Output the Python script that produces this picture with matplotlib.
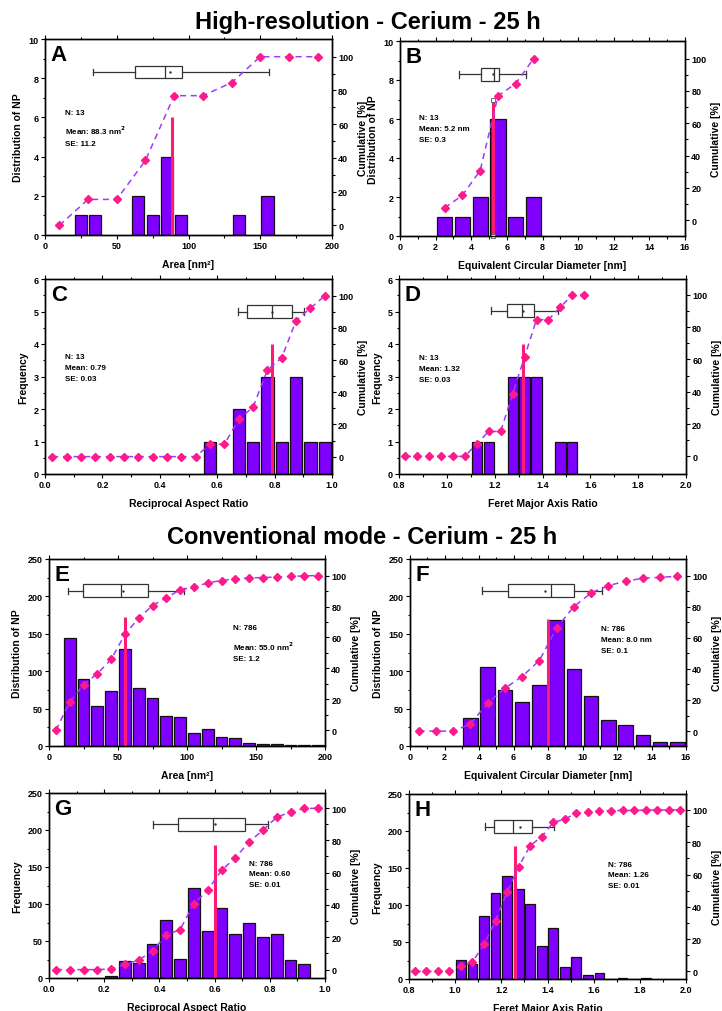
import matplotlib
matplotlib.use("Agg")
import matplotlib.pyplot as plt
from matplotlib.ticker import AutoMinorLocator, FixedLocator

plt.rcParams['font.family'] = ['Liberation Sans', 'DejaVu Sans']
plt.rcParams['font.weight'] = 'bold'
plt.rcParams['axes.labelweight'] = 'bold'

# ---------------- DATA ----------------
# Panel A - Area (high resolution)
a_centers = [25, 35, 65, 75, 85, 95, 135, 155]
a_counts = [1, 1, 2, 1, 4, 1, 1, 2]
a_cum_x = [10, 30, 50, 70, 90, 110, 130, 150, 170, 190]
a_cum_y = [0, 15.4, 15.4, 38.5, 76.9, 76.9, 84.6, 100, 100, 100]
a_box = [33.6, 63, 83.6, 95.3, 156, 87]
a_mean = 88.3
a_text = "N: 13\nMean: 88.3 nm$^{2}$\nSE: 11.2"

# Panel B - ECD (high resolution)
b_centers = [2.5, 3.5, 4.5, 5.5, 6.5, 7.5]
b_counts = [1, 1, 2, 6, 1, 2]
b_cum_x = [2.5, 3.5, 4.5, 5.5, 6.5, 7.5]
b_cum_y = [7.7, 15.4, 30.8, 76.9, 84.6, 100]
b_box = [3.33, 4.54, 5.25, 5.57, 7.1, 5.2]
b_mean = 5.2
b_text = "N: 13\nMean: 5.2 nm\nSE: 0.3"

# Panel C - Reciprocal aspect ratio (high resolution)
c_centers = [0.575, 0.675, 0.725, 0.775, 0.825, 0.875, 0.925, 0.975]
c_counts = [1, 2, 1, 3, 1, 3, 1, 1]
c_cum_x = [0.025, 0.075, 0.125, 0.175, 0.225, 0.275, 0.325, 0.375, 0.425,
           0.475, 0.525, 0.575, 0.625, 0.675, 0.725, 0.775, 0.825, 0.875,
           0.925, 0.975]
c_cum_y = [0, 0, 0, 0, 0, 0, 0, 0, 0, 0, 0, 7.7, 7.7, 23.1, 30.8, 53.8,
           61.5, 84.6, 92.3, 100]
c_box = [0.672, 0.703, 0.792, 0.860, 0.901, 0.79]
c_mean = 0.79
c_text = "N: 13\nMean: 0.79\nSE: 0.03"

# Panel D - Feret major axis ratio (high resolution)
d_centers = [1.125, 1.175, 1.275, 1.325, 1.375, 1.475, 1.525]
d_counts = [1, 1, 3, 3, 3, 1, 1]
d_cum_x = [0.825, 0.875, 0.925, 0.975, 1.025, 1.075, 1.125, 1.175, 1.225,
           1.275, 1.325, 1.375, 1.425, 1.475, 1.525, 1.575]
d_cum_y = [0, 0, 0, 0, 0, 0, 7.7, 15.4, 15.4, 38.5, 61.5, 84.6, 84.6,
           92.3, 100, 100]
d_box = [1.186, 1.253, 1.315, 1.364, 1.464, 1.32]
d_mean = 1.32
d_text = "N: 13\nMean: 1.32\nSE: 0.03"

# Panel E - Area (conventional)
e_centers = [15, 25, 35, 45, 55, 65, 75, 85, 95, 105, 115, 125, 135, 145,
             155, 165, 175, 185, 195]
e_counts = [144, 89, 53, 73, 130, 77, 64, 40, 39, 17, 23, 12, 11, 4, 3, 3,
            2, 2, 2]
e_cum_x = [5, 15, 25, 35, 45, 55, 65, 75, 85, 95, 105, 115, 125, 135, 145,
           155, 165, 175, 185, 195]
e_cum_y = [0, 18.3, 29.5, 36.6, 45.8, 62.0, 72.5, 80.6, 85.6, 90.8, 92.5,
           95.3, 96.8, 97.8, 98.5, 98.7, 99.1, 99.4, 99.8, 100]
e_box = [13.5, 24.9, 52.2, 71.5, 98, 53.9]
e_mean = 55.0
e_text = "N: 786\nMean: 55.0 nm$^{2}$\nSE: 1.2"

# Panel F - ECD (conventional)
f_centers = [3.5, 4.5, 5.5, 6.5, 7.5, 8.5, 9.5, 10.5, 11.5, 12.5, 13.5,
             14.5, 15.5]
f_counts = [37, 106, 75, 59, 81, 168, 103, 67, 35, 28, 15, 5, 5]
f_cum_x = [0.5, 1.5, 2.5, 3.5, 4.5, 5.5, 6.5, 7.5, 8.5, 9.5, 10.5, 11.5,
           12.5, 13.5, 14.5, 15.5]
f_cum_y = [0, 0, 0, 4.5, 18, 27.6, 35.1, 45.4, 66.4, 80.1, 88.9, 93.6,
           96.4, 98.3, 98.9, 99.6]
f_box = [4.15, 5.68, 8.17, 9.53, 11.13, 7.85]
f_mean = 8.0
f_text = "N: 786\nMean: 8.0 nm\nSE: 0.1"

# Panel G - Reciprocal aspect ratio (conventional)
g_centers = [0.225, 0.275, 0.325, 0.375, 0.425, 0.475, 0.525, 0.575, 0.625,
             0.675, 0.725, 0.775, 0.825, 0.875, 0.925]
g_counts = [3, 23, 20, 46, 78, 26, 121, 63, 95, 60, 74, 55, 59, 24, 19]
g_cum_x = [0.025, 0.075, 0.125, 0.175, 0.225, 0.275, 0.325, 0.375, 0.425,
           0.475, 0.525, 0.575, 0.625, 0.675, 0.725, 0.775, 0.825, 0.875,
           0.925, 0.975]
g_cum_y = [0, 0, 0, 0, 0.4, 3.2, 5.9, 11.6, 21.4, 24.8, 40.8, 49.0, 61.4,
           69.2, 79.0, 86.3, 94.3, 97.5, 99.8, 99.8]
g_box = [0.378, 0.469, 0.595, 0.71, 0.795, 0.60]
g_mean = 0.60
g_text = "N: 786\nMean: 0.60\nSE: 0.01"

# Panel H - Feret major axis ratio (conventional)
h_centers = [1.025, 1.075, 1.125, 1.175, 1.225, 1.275, 1.325, 1.375, 1.425,
             1.475, 1.525, 1.575, 1.625, 1.675, 1.725, 1.775, 1.825]
h_counts = [26, 20, 85, 116, 139, 121, 102, 44, 69, 16, 30, 5, 8, 0, 1, 0, 1]
h_cum_x = [0.825, 0.875, 0.925, 0.975, 1.025, 1.075, 1.125, 1.175, 1.225,
           1.275, 1.325, 1.375, 1.425, 1.475, 1.525, 1.575, 1.625, 1.675,
           1.725, 1.775, 1.825, 1.875, 1.925, 1.975]
h_cum_y = [0, 0, 0, 0, 3.3, 5.9, 16.8, 31.5, 49.3, 64.8, 77.9, 83.5, 92.3,
           94.3, 98.1, 98.7, 99.6, 99.6, 99.7, 99.7, 99.9, 100, 100, 100]
h_box = [1.128, 1.169, 1.251, 1.335, 1.429, 1.281]
h_mean = 1.26
h_text = "N: 786\nMean: 1.26\nSE: 0.01"

# ---------------- STYLE ----------------
BAR_C = '#8000FF'
MEAN_C = '#FF1A75'
MARK_C = '#FF1A8C'
DASH_C = '#9B3CFF'
TICK_FS = 6.5
LAB_FS = 7.5
TXT_FS = 5.8

W, H = 722, 1012
fig = plt.figure(figsize=(W / 100, H / 100), dpi=100)


def rect(x0, y0, x1, y1):
    return [x0 / W, 1 - y1 / H, (x1 - x0) / W, (y1 - y0) / H]


def panel(r, centers, counts, bw, cum_x, cum_y, box, box_y, box_h, mean,
          mean_h, xlim, xticks, ylim, yticks, clim, xlabel, ylabel, letter,
          text, tpos, squares=False):
    ax = fig.add_axes(rect(*r))
    ax.bar(centers, counts, width=bw * 0.85, color=BAR_C, edgecolor='#111111',
           linewidth=0.9, zorder=2)
    ax.plot([mean, mean], [0, mean_h], color=MEAN_C, lw=2.2, zorder=3,
            solid_capstyle='butt')
    if squares:
        ax.plot([mean, mean], [0, mean_h], ls='none', marker='s', ms=3,
                mfc='white', mec='#555555', mew=0.6, zorder=4, clip_on=False)
    stats = [dict(whislo=box[0], q1=box[1], med=box[2], q3=box[3],
                  whishi=box[4], mean=box[5], fliers=[])]
    ax.bxp(stats, positions=[box_y], widths=box_h, orientation='horizontal',
           showmeans=True, manage_ticks=False, patch_artist=True, zorder=4,
           boxprops=dict(facecolor='white', edgecolor='#333333', lw=0.9),
           whiskerprops=dict(color='#333333', lw=0.9),
           capprops=dict(color='#333333', lw=0.9),
           medianprops=dict(color='#333333', lw=0.9),
           meanprops=dict(marker='.', ms=1.5, mfc='#333333', mec='#333333'))
    ax.set_xlim(*xlim)
    ax.set_ylim(*ylim)
    ax.xaxis.set_major_locator(FixedLocator(xticks))
    ax.yaxis.set_major_locator(FixedLocator(yticks))
    ax.xaxis.set_minor_locator(AutoMinorLocator(2))
    ax.yaxis.set_minor_locator(AutoMinorLocator(2))
    ax.tick_params(which='both', direction='out', top=True, right=False,
                   width=0.8, labelsize=TICK_FS, pad=1.5)
    ax.tick_params(which='major', length=3)
    ax.tick_params(which='minor', length=1.8)
    for lab in ax.get_xticklabels() + ax.get_yticklabels():
        lab.set_fontweight('bold')
    for s in ax.spines.values():
        s.set_linewidth(1.0)
    ax.set_xlabel(xlabel, fontsize=LAB_FS, fontweight='bold', labelpad=6)
    ax.set_ylabel(ylabel, fontsize=LAB_FS, fontweight='bold', labelpad=4)
    ax.text(0.02, 0.975, letter, transform=ax.transAxes, fontsize=16,
            fontweight='bold', va='top', ha='left', zorder=6)
    ax.text(tpos[0], tpos[1], text, transform=ax.transAxes, fontsize=TXT_FS,
            fontweight='bold', va='top', ha='left', linespacing=1.75, zorder=6)

    ax2 = ax.twinx()
    ax2.plot(cum_x, cum_y, color=DASH_C, lw=1.1, ls=(0, (4, 3)), zorder=3)
    ax2.plot(cum_x, cum_y, ls='none', marker='D', ms=3.6, color=MARK_C,
             mec=MARK_C, zorder=4)
    ax2.set_ylim(*clim)
    ax2.yaxis.set_major_locator(FixedLocator([0, 20, 40, 60, 80, 100]))
    ax2.yaxis.set_minor_locator(FixedLocator([10, 30, 50, 70, 90]))
    ax2.tick_params(which='both', direction='out', width=0.8,
                    labelsize=TICK_FS, pad=1.5)
    ax2.tick_params(which='major', length=3)
    ax2.tick_params(which='minor', length=1.8)
    for lab in ax2.get_yticklabels():
        lab.set_fontweight('bold')
    for s in ax2.spines.values():
        s.set_linewidth(1.0)
    ax2.set_ylabel('Cumulative [%]', fontsize=LAB_FS, fontweight='bold',
                   labelpad=3)
    return ax, ax2


DIST = 'Distribution of NP'
FREQ = 'Frequency'

panel((45, 40, 332, 236), a_centers, a_counts, 10, a_cum_x, a_cum_y, a_box,
      8.32, 0.65, a_mean, 6, (0, 200), [0, 50, 100, 150, 200], (0, 10),
      [0, 2, 4, 6, 8, 10], (-5.7, 110.5), 'Area [nm²]', DIST, 'A', a_text,
      (0.07, 0.645))
panel((400, 42, 685, 237), b_centers, b_counts, 1, b_cum_x, b_cum_y, b_box,
      8.29, 0.68, b_mean, 7, (0, 16), [0, 2, 4, 6, 8, 10, 12, 14, 16],
      (0, 10), [0, 2, 4, 6, 8, 10], (-9.7, 110.9),
      'Equivalent Circular Diameter [nm]', DIST, 'B', b_text, (0.067, 0.625),
      squares=True)
panel((45, 280, 332, 475), c_centers, c_counts, 0.05, c_cum_x, c_cum_y, c_box,
      5.0, 0.41, c_mean, 4, (0, 1), [0, 0.2, 0.4, 0.6, 0.8, 1.0], (0, 6),
      [0, 1, 2, 3, 4, 5, 6], (-10.8, 110.4), 'Reciprocal Aspect Ratio', FREQ,
      'C', c_text, (0.07, 0.62))
panel((399, 280, 686, 475), d_centers, d_counts, 0.05, d_cum_x, d_cum_y,
      d_box, 5.03, 0.41, d_mean, 4, (0.8, 2.0),
      [0.8, 1.0, 1.2, 1.4, 1.6, 1.8, 2.0], (0, 6), [0, 1, 2, 3, 4, 5, 6],
      (-10.9, 109.7), 'Feret Major Axis Ratio', FREQ, 'D', d_text,
      (0.07, 0.615))
panel((49, 560, 325, 747), e_centers, e_counts, 10, e_cum_x, e_cum_y, e_box,
      207.5, 17, e_mean, 172, (0, 200), [0, 50, 100, 150, 200], (0, 250),
      [0, 50, 100, 150, 200, 250], (-10.1, 110.7), 'Area [nm²]', DIST, 'E',
      e_text, (0.667, 0.65))
panel((410, 560, 686, 747), f_centers, f_counts, 1, f_cum_x, f_cum_y, f_box,
      207.7, 17.8, f_mean, 170, (0, 16), [0, 2, 4, 6, 8, 10, 12, 14, 16],
      (0, 250), [0, 50, 100, 150, 200, 250], (-9.6, 110.7),
      'Equivalent Circular Diameter [nm]', DIST, 'F', f_text, (0.692, 0.645))
panel((49, 794, 325, 979), g_centers, g_counts, 0.05, g_cum_x, g_cum_y, g_box,
      207.5, 17, g_mean, 180, (0, 1), [0, 0.2, 0.4, 0.6, 0.8, 1.0], (0, 250),
      [0, 50, 100, 150, 200, 250], (-5.2, 109.3), 'Reciprocal Aspect Ratio',
      FREQ, 'G', g_text, (0.725, 0.64))
panel((409, 795, 686, 980), h_centers, h_counts, 0.05, h_cum_x, h_cum_y,
      h_box, 206, 17.6, h_mean, 180, (0.8, 2.0),
      [0.8, 1.0, 1.2, 1.4, 1.6, 1.8, 2.0], (0, 250),
      [0, 50, 100, 150, 200, 250], (-4.7, 109.9), 'Feret Major Axis Ratio',
      FREQ, 'H', h_text, (0.718, 0.64))

fig.text(368 / W, 1 - 22 / H, 'High-resolution - Cerium - 25 h', ha='center',
         va='center', fontsize=17, fontweight='bold')
fig.text(362 / W, 1 - 537 / H, 'Conventional mode - Cerium - 25 h',
         ha='center', va='center', fontsize=17, fontweight='bold')

fig.savefig('out.png', dpi=100)
